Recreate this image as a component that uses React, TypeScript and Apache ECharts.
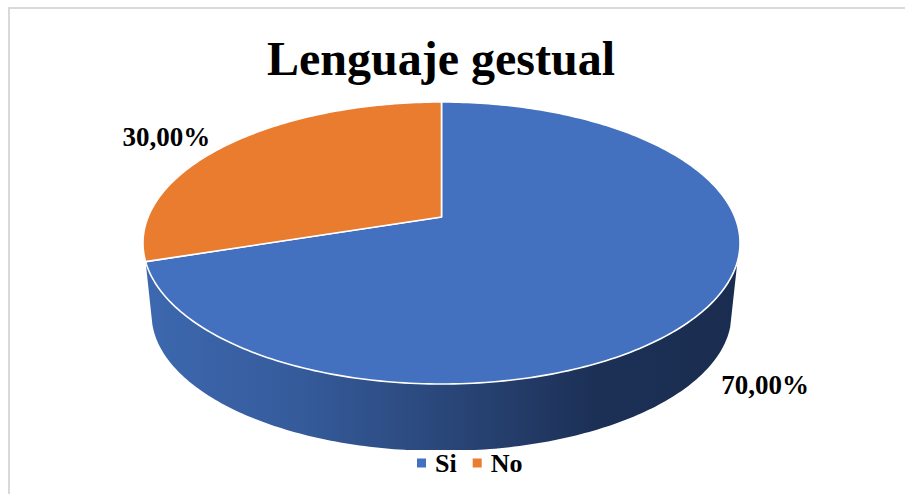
import React, { useEffect, useRef } from "react";
import * as echarts from "echarts";

const titleText = "Lenguaje gestual";
const categories = ["Si", "No"];
const shares = [70, 30];
const sliceColors = ["#4371BF", "#EA7C30"];
const labelOffsets = [[57.5, 78], [-61, -8]];
const FONT = '"Liberation Serif"';

// projective map of a unit disc onto the tilted pie top
const CX = 441.5, CY = 217, AX = 293.4, BY = -96.2, K = 0.1844;
const project = (deg: number) => {
  const t = (deg * Math.PI) / 180;
  const u = Math.sin(t), v = Math.cos(t), w = 1 + K * v;
  return [CX + (AX * u) / w, (CY + BY * v) / w];
};
const total = shares.reduce((a, b) => a + b, 0);
const startAngle = (i: number) => (shares.slice(0, i).reduce((a, b) => a + b, 0) / total) * 360;
const arc = (from: number, to: number) => {
  const pts: number[][] = [];
  const n = Math.max(2, Math.ceil(Math.abs(to - from)));
  for (let i = 0; i <= n; i++) pts.push(project(from + ((to - from) * i) / n));
  return pts;
};
const pctText = (v: number) => v.toFixed(2).replace(".", ",") + "%";

const sliceItem = (i: number) => (_params: any, api: any) => {
  const a0 = startAngle(i);
  const a1 = a0 + (api.value(0) / total) * 360;
  const mid = project((a0 + a1) / 2);
  return {
    type: "group",
    children: [
      {
        type: "polygon",
        shape: { points: [[CX, CY], ...arc(a0, a1)] },
        style: { fill: sliceColors[i], stroke: "#ffffff", lineWidth: 1.6, lineJoin: "round" },
      },
      {
        type: "text",
        style: {
          x: mid[0] + labelOffsets[i][0],
          y: mid[1] + labelOffsets[i][1],
          text: pctText(api.value(0)),
          fontFamily: FONT,
          fontWeight: "bold",
          fontSize: 27,
          fill: "#000000",
          align: "center",
          verticalAlign: "middle",
        },
      },
    ],
  };
};

const wallItem = () => {
  const end = startAngle(1);
  const bottom: number[][] = [];
  for (let p = 265.4; p >= 94.6; p -= 1) {
    const t = (p * Math.PI) / 180;
    bottom.push([CX + 290 * Math.sin(t), 314 - 137 * Math.cos(t)]);
  }
  return {
    type: "polygon",
    shape: { points: [...arc(108, end), ...bottom] },
    style: {
      fill: {
        type: "linear", x: 0, y: 0, x2: 1, y2: 0,
        colorStops: [
          { offset: 0, color: "#3D68AF" },
          { offset: 0.26, color: "#355B9B" },
          { offset: 0.5, color: "#2A477A" },
          { offset: 0.76, color: "#1C3056" },
          { offset: 1, color: "#1A2D50" },
        ],
      },
    },
  };
};

export default function App() {
  const ref = useRef<HTMLDivElement>(null);
  useEffect(() => {
    const chart = echarts.init(ref.current!, undefined, { renderer: "svg" });
    chart.setOption({
      animation: false,
      backgroundColor: "#ffffff",
      title: {
        text: titleText,
        left: 436,
        top: 29,
        textAlign: "center",
        textStyle: { fontFamily: FONT, fontWeight: "bold", fontSize: 48, color: "#000000" },
      },
      legend: {
        data: categories,
        left: 408,
        top: 450,
        z: 10,
        padding: [0, 8, 4, 9],
        backgroundColor: "#ffffff",
        icon: "rect",
        itemWidth: 9,
        itemHeight: 9,
        itemGap: 16,
        textStyle: { fontFamily: FONT, fontWeight: "bold", fontSize: 26, color: "#000000", padding: [0, 0, 0, 4] },
      },
      graphic: [
        {
          type: "rect",
          z: -1,
          shape: { x: 9, y: 8, width: 920, height: 520 },
          style: { fill: "none", stroke: "#D9D9D9", lineWidth: 2 },
        },
      ],
      series: [
        { type: "custom", name: "wall", coordinateSystem: "none", data: [[0]], renderItem: wallItem, z: 1, silent: true },
        ...categories.map((name, i) => ({
          type: "custom",
          name,
          coordinateSystem: "none",
          itemStyle: { color: sliceColors[i] },
          data: [[shares[i]]],
          renderItem: sliceItem(i),
          z: 2,
        })),
      ],
    });
    return () => chart.dispose();
  }, []);
  return <div ref={ref} style={{ position: "fixed", left: 0, top: 0, width: 905, height: 494 }} />;
}
